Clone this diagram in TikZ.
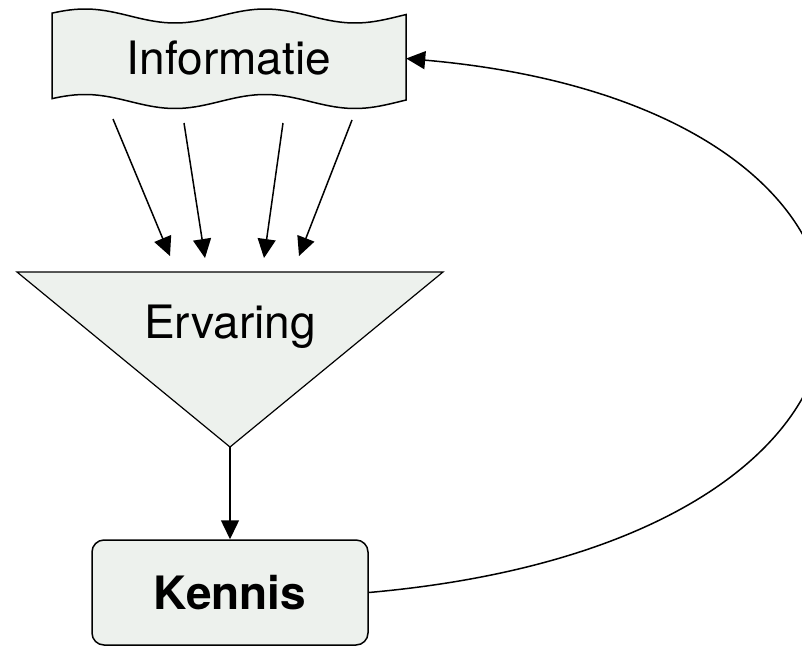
\documentclass[tikz,border=0pt]{standalone}
\usepackage{fontspec}
\setmainfont{TeX Gyre Heros}
\usetikzlibrary{arrows.meta}
\definecolor{boxfill}{RGB}{237,241,237}

\begin{document}
\begin{tikzpicture}[x=1pt,y=-1pt]
\tikzset{shapebox/.style = {draw,fill=boxfill,line width=1.5pt}}
\tikzset{flow/.style = {-{Triangle[length=19pt,width=18pt]},line width=1.5pt}}
\tikzset{bigtext/.style = {font=\fontsize{46}{55}\selectfont}}
\useasboundingbox (0,0) rectangle (802,645);
% Informatie (document shape)
\draw[shapebox] plot[domain=52:406,samples=80] (\x,{16-7*cos(2*(\x-85))})
  -- plot[domain=406:52,samples=80] (\x,{101.5-7*cos(2*(\x-85))}) -- cycle;
\node[bigtext,minimum width=354pt,minimum height=86pt,inner sep=0pt] (info) at (229,58.5) {Informatie};
% Ervaring (funnel)
\coordinate (tl) at (17,272);
\coordinate (tr) at (443,272);
\coordinate (apex) at (230,447);
\draw[shapebox,line width=1.2pt] (tl) -- (tr) -- (apex) -- cycle;
\node[bigtext,anchor=base] (erv) at (230,338) {Ervaring};
% Kennis
\node[shapebox,rounded corners=12pt,minimum width=276pt,minimum height=105pt,
  font=\bfseries\fontsize{46}{55}\selectfont] (ken) at (230,592.5) {Kennis};
% information flowing into the funnel
\foreach \n/\sx/\sy/\ex/\ey in {1/113/119/170/256,2/184/123/205/258,3/283/123/264/258,4/352/120/299/256}{
  \coordinate (s\n) at (\sx,\sy);
  \coordinate (t\n) at (\ex,\ey);
  \draw[flow] (s\n) -- (t\n);
}
\draw[flow] (apex) -- (ken);
\draw[flow] (ken.east) .. controls +(600,-53) and +(560,49) .. (info.east);
\end{tikzpicture}
\end{document}
